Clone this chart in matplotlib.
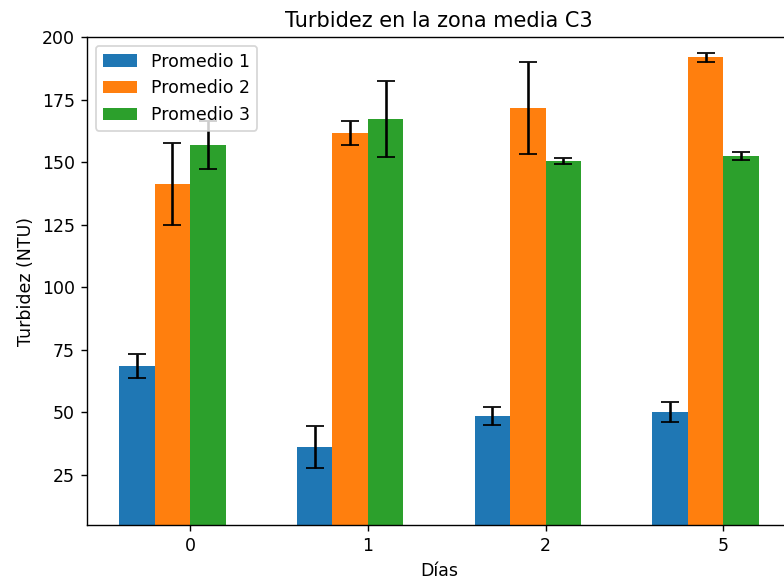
import numpy as np
import matplotlib
matplotlib.use("Agg")
import matplotlib.pyplot as plt

# days and averages
dias = ["0", "1", "2", "5"]
prom1 = [68.6, 36.3, 48.6, 50.1]
prom2 = [141.1, 161.6, 171.6, 191.9]
prom3 = [156.9, 167.2, 150.5, 152.6]
err1 = [4.9, 8.4, 3.6, 4.1]
err2 = [16.4, 4.7, 18.5, 1.9]
err3 = [9.5, 15.2, 1.1, 1.6]

x = np.arange(len(dias))
w = 0.2

fig = plt.figure(figsize=(784 / 125, 583 / 125), dpi=125)
ax = fig.add_axes([87 / 784, 58 / 583, 704 / 784, 488 / 583])

ax.bar(x - 0.3, prom1, w, yerr=err1, capsize=5, label="Promedio 1")
ax.bar(x - 0.1, prom2, w, yerr=err2, capsize=5, label="Promedio 2")
ax.bar(x + 0.1, prom3, w, yerr=err3, capsize=5, label="Promedio 3")

ax.set_xticks(x)
ax.set_xticklabels(dias)
ax.set_ylim(5, 200)
ax.set_xlabel("Días")
ax.set_ylabel("Turbidez (NTU)")
ax.set_title("Turbidez en la zona media C3")
ax.legend(loc="upper left")

fig.savefig("out.png", dpi=125)
